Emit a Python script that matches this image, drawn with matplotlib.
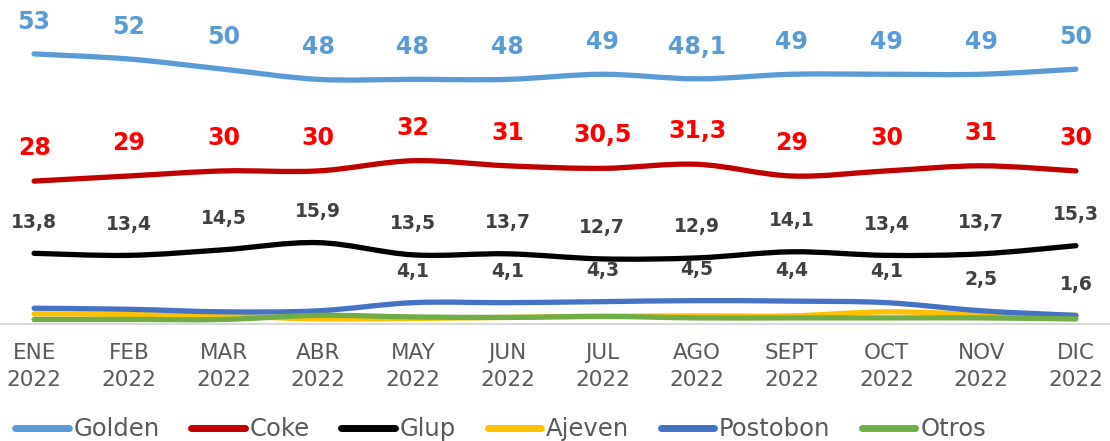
import matplotlib.pyplot as plt
from matplotlib.path import Path
from matplotlib.patches import PathPatch
from matplotlib.lines import Line2D
import numpy as np

months = ["ENE\n2022", "FEB\n2022", "MAR\n2022", "ABR\n2022", "MAY\n2022", "JUN\n2022",
          "JUL\n2022", "AGO\n2022", "SEPT\n2022", "OCT\n2022", "NOV\n2022", "DIC\n2022"]

golden = [53, 52, 50, 48, 48, 48, 49, 48.1, 49, 49, 49, 50]
coke = [28, 29, 30, 30, 32, 31, 30.5, 31.3, 29, 30, 31, 30]
glup = [13.8, 13.4, 14.5, 15.9, 13.5, 13.7, 12.7, 12.9, 14.1, 13.4, 13.7, 15.3]
ajeven = [1.9, 1.8, 1.5, 0.9, 1.0, 1.2, 1.4, 1.5, 1.5, 2.3, 1.8, 1.6]
postobon = [3.0, 2.8, 2.3, 2.5, 4.1, 4.1, 4.3, 4.5, 4.4, 4.1, 2.5, 1.6]
otros = [0.8, 0.8, 0.8, 1.6, 1.3, 1.2, 1.4, 1.1, 1.1, 1.1, 1.1, 0.9]

# labels shown on the chart (None = no label)
golden_lbl = ["53", "52", "50", "48", "48", "48", "49", "48,1", "49", "49", "49", "50"]
coke_lbl = ["28", "29", "30", "30", "32", "31", "30,5", "31,3", "29", "30", "31", "30"]
glup_lbl = ["13,8", "13,4", "14,5", "15,9", "13,5", "13,7", "12,7", "12,9", "14,1", "13,4", "13,7", "15,3"]
postobon_lbl = [None, None, None, None, "4,1", "4,1", "4,3", "4,5", "4,4", "4,1", "2,5", "1,6"]

plt.rcParams['font.family'] = ['DejaVu Sans']

fig = plt.figure(figsize=(11.1, 4.41), dpi=100)
ax = fig.add_axes([0, 0.2664, 1, 0.7336])


def smooth_line(ax, y, color, lw, z):
    # excel-like smoothed line as cubic bezier through the data points
    x = np.arange(len(y), dtype=float)
    y = np.asarray(y, dtype=float)
    verts = [(x[0], y[0])]
    codes = [Path.MOVETO]
    n = len(y)
    for i in range(n - 1):
        i0 = max(i - 1, 0)
        i3 = min(i + 2, n - 1)
        c1 = (x[i] + (x[i + 1] - x[i0]) / 6, y[i] + (y[i + 1] - y[i0]) / 6)
        c2 = (x[i + 1] - (x[i3] - x[i]) / 6, y[i + 1] - (y[i3] - y[i]) / 6)
        verts += [c1, c2, (x[i + 1], y[i + 1])]
        codes += [Path.CURVE4] * 3
    patch = PathPatch(Path(verts, codes), facecolor="none", edgecolor=color,
                      lw=lw, capstyle="round", joinstyle="round", zorder=z)
    ax.add_patch(patch)


series = [
    ("Golden", golden, "#5B9BD5"),
    ("Coke", coke, "#C00000"),
    ("Glup", glup, "#000000"),
    ("Ajeven", ajeven, "#FFC000"),
    ("Postobon", postobon, "#4472C4"),
    ("Otros", otros, "#70AD47"),
]
zorders = {"Golden": 3, "Coke": 3, "Glup": 3, "Ajeven": 4, "Postobon": 4, "Otros": 5}
for name, vals, col in series:
    smooth_line(ax, vals, col, 3.8, zorders[name])


def add_labels(vals, lbls, color, size, off):
    for i, (v, t) in enumerate(zip(vals, lbls)):
        if t is None:
            continue
        ax.annotate(t, (i, v), xytext=(0, off), textcoords="offset pixels",
                    ha="center", va="center", color=color, fontsize=size,
                    fontweight="bold", zorder=6)


add_labels(golden, golden_lbl, "#5B9BD5", 17, 32)
add_labels(coke, coke_lbl, "#FF0000", 17, 33)
add_labels(glup, glup_lbl, "#404040", 13.5, 31)
add_labels(postobon, postobon_lbl, "#404040", 13.5, 31)

ax.set_xlim(-0.36, 11.36)
ax.set_ylim(0, 63.6)
ax.set_xticks(range(len(months)))
ax.set_xticklabels(months, fontsize=15.5, color="#595959", linespacing=1.45)
ax.tick_params(axis="x", length=0, pad=14)
ax.set_yticks([])
for s in ["top", "right", "left"]:
    ax.spines[s].set_visible(False)
ax.spines["bottom"].set_color("#D9D9D9")
ax.spines["bottom"].set_linewidth(1.5)

handles = [Line2D([], [], color=c, lw=5, solid_capstyle="round") for _, _, c in series]
fig.legend(handles, [n for n, _, _ in series], loc="lower center", ncol=6,
           bbox_to_anchor=(0.451, -0.05), frameon=False, fontsize=17.5,
           labelcolor="#595959", handlelength=2.2, handletextpad=0.2,
           columnspacing=1.3)

fig.savefig("out.png", dpi=100)
